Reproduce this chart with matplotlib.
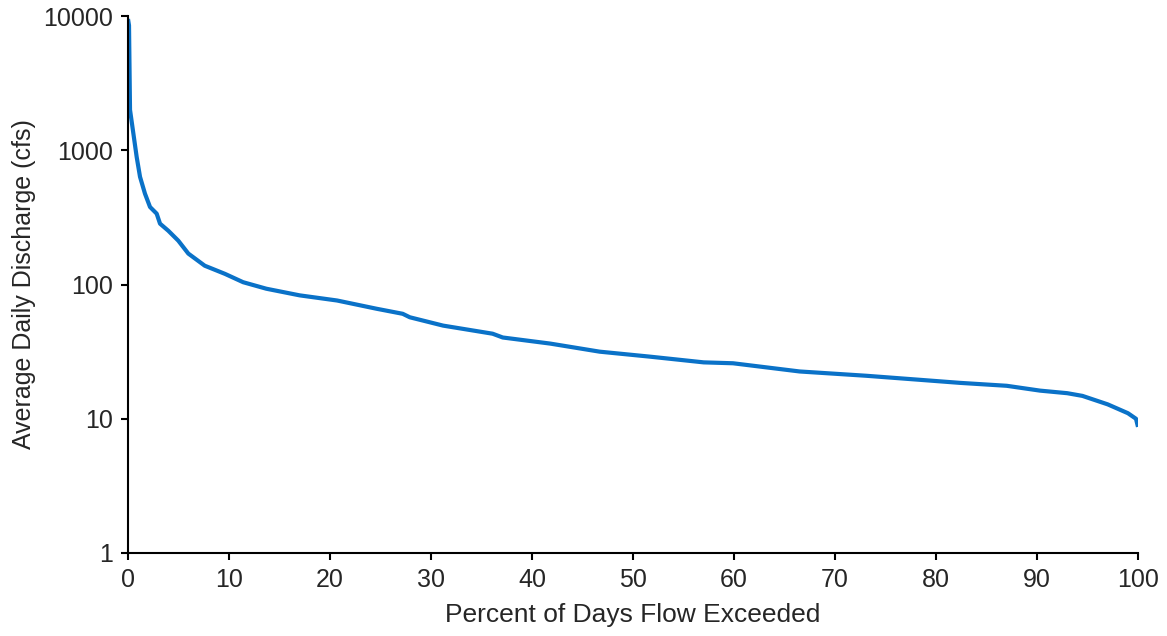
import matplotlib
matplotlib.use("Agg")
import matplotlib.pyplot as plt
from matplotlib.ticker import FixedLocator, NullLocator

percent_exceeded = [0.0, 0.1, 0.2, 0.53, 0.86, 1.19, 1.68, 2.18, 2.84, 3.17, 4.0, 4.98, 5.97,
                    7.6, 9.6, 11.4, 13.7, 17.0, 20.7, 24.6, 27.2, 27.9, 31.2, 36.1, 37.1,
                    41.8, 46.7, 51.7, 57.0, 59.9, 66.5, 73.1, 78.4, 82.4, 87.0, 90.3, 93.0,
                    94.5, 97.0, 99.0, 99.8, 100.0]
discharge_cfs = [9500, 8500, 2000, 1335, 890, 634, 475, 378, 337, 284, 251, 212, 170,
                 138, 120, 104, 93, 83, 76, 66, 60.5, 57, 49.4, 43, 40.3,
                 36.3, 31.6, 29, 26.3, 25.9, 22.5, 20.9, 19.5, 18.5, 17.6, 16.2, 15.5,
                 14.8, 12.8, 11.0, 10.0, 8.7]
y_ticks = [1, 10, 100, 1000, 10000]
x_ticks = [0, 10, 20, 30, 40, 50, 60, 70, 80, 90, 100]

plt.rcParams['font.family'] = ['Liberation Sans', 'DejaVu Sans']

fig = plt.figure(figsize=(11.67, 6.36), dpi=100)
ax = fig.add_axes([128/1167, 1 - 553/636, (1138-128)/1167, (553-16)/636])
ax.plot(percent_exceeded, discharge_cfs, color='#0A72C8', lw=3.0,
        solid_joinstyle='round', solid_capstyle='butt')
ax.set_yscale('log')
ax.set_xlim(0, 100)
ax.set_ylim(1, 10000)
ax.yaxis.set_major_locator(FixedLocator(y_ticks))
ax.yaxis.set_minor_locator(NullLocator())
ax.set_yticks(y_ticks)
ax.set_yticklabels([str(v) for v in y_ticks])
ax.set_xticks(x_ticks)
ax.set_xticklabels([str(v) for v in x_ticks])
for s in ['top', 'right']:
    ax.spines[s].set_visible(False)
for s in ['left', 'bottom']:
    ax.spines[s].set_linewidth(1.5)
    ax.spines[s].set_color('black')
ax.tick_params(axis='both', direction='out', length=5, width=1.5, labelsize=18,
               colors='black', labelcolor='#262626', pad=6)
ax.set_xlabel('Percent of Days Flow Exceeded', fontsize=19, color='#262626', labelpad=8)
ax.set_ylabel('Average Daily Discharge (cfs)', fontsize=18, color='#262626', labelpad=5)
fig.savefig('out.png', dpi=100)
